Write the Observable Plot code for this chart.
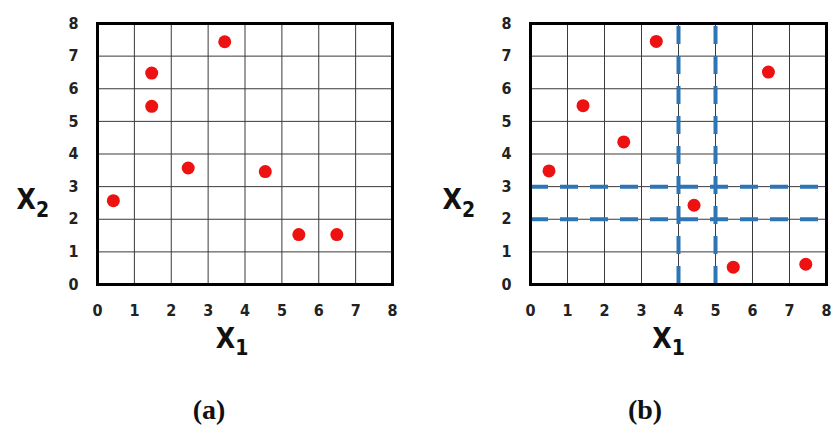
<!DOCTYPE html>
<html><head><meta charset="utf-8">
<script src="https://cdn.jsdelivr.net/npm/d3@7"></script>
<script src="https://cdn.jsdelivr.net/npm/@observablehq/plot@0.6"></script>
<style>
body{margin:0;background:#fff;}
#wrap{position:relative;width:832px;height:430px;overflow:hidden;}
#wrap svg{position:absolute;top:0;background:transparent;}
.cap{position:absolute;top:394px;font-family:"Liberation Serif","DejaVu Serif",serif;font-weight:bold;font-size:28px;transform:translateX(-50%);color:#111;}
</style></head><body>
<div id="wrap"></div>
<script>
// tick values shared by both panels
const ticks = [0, 1, 2, 3, 4, 5, 6, 7, 8];

// Panel (a) points
const aX1 = [0.43, 1.47, 1.47, 2.46, 3.45, 4.55, 5.46, 6.49];
const aX2 = [2.57, 6.48, 5.46, 3.57, 7.44, 3.46, 1.53, 1.53];

// Panel (b) points
const bX1 = [0.50, 1.42, 2.52, 3.40, 4.42, 6.43, 5.48, 7.44];
const bX2 = [3.48, 5.48, 4.37, 7.45, 2.43, 6.51, 0.53, 0.62];

// Panel (b) split lines
const bSplitX1 = [4, 5];
const bSplitX2 = [2, 3];

const axisLabels = ["X₁", "X₂"];
const captions = ["(a)", "(b)"];

const tickFont = '"Liberation Sans Narrow","DejaVu Sans Condensed","Liberation Sans",sans-serif';

function panel(xs, ys, splitsX, splitsY, opts) {
  const pts = xs.map((x, i) => ({x, y: ys[i]}));
  const dash = {stroke: "#2E75B6", strokeWidth: 4, strokeDasharray: "18,12"};
  const marks = [
    Plot.gridX(ticks, {stroke: "#3a3a3a", strokeOpacity: 1, strokeWidth: 1}),
    Plot.gridY(ticks, {stroke: "#3a3a3a", strokeOpacity: 1, strokeWidth: 1}),
  ];
  if (splitsX.length) marks.push(Plot.ruleX(splitsX, {y1: 0, y2: 8, ...dash}));
  if (splitsY.length) marks.push(Plot.ruleY(splitsY, {x1: 0, x2: 8, ...dash}));
  marks.push(
    Plot.frame({stroke: "#000", strokeWidth: 3}),
    Plot.dot(pts, {x: "x", y: "y", r: 6.5, fill: "#ee1111", stroke: "none"}),
    Plot.axisX(ticks, {tickSize: 0, tickPadding: 20, fontSize: 16, fontWeight: "bold", fill: "#222", label: null, tickFormat: d => String(d)}),
    Plot.axisY(ticks, {tickSize: 0, tickPadding: 19, fontSize: 16, fontWeight: "bold", fill: "#222", label: null, tickFormat: d => String(d)}),
    Plot.text([axisLabels[0]], {frameAnchor: "bottom", dx: opts.xlabDx, dy: 63, fontSize: 28, fontWeight: "bold", fill: "#111", textAnchor: "middle"}),
    Plot.text([axisLabels[1]], {frameAnchor: "left", dx: opts.ylabDx, dy: 46, fontSize: 28, fontWeight: "bold", fill: "#111", textAnchor: "start"})
  );
  const svg = Plot.plot({
    width: 416, height: 370,
    marginLeft: opts.marginLeft, marginRight: opts.marginRight,
    marginTop: 23, marginBottom: 86,
    x: {domain: [0, 8]},
    y: {domain: [0, 8]},
    style: {fontFamily: tickFont, background: "transparent"},
    marks
  });
  // render the subscript digit as a lowered, smaller tspan
  d3.select(svg).selectAll("text").each(function () {
    const t = d3.select(this);
    const s = this.textContent;
    if (!axisLabels.includes(s)) return;
    const digit = s === axisLabels[0] ? "1" : "2";
    t.text(null);
    t.append("tspan").text("X");
    t.append("tspan").attr("dy", "0.36em").attr("font-size", "21").text(digit);
  });
  svg.style.left = opts.left + "px";
  return svg;
}

const wrap = document.getElementById("wrap");
wrap.appendChild(panel(aX1, aX2, [], [], {left: 0, marginLeft: 97, marginRight: 24, xlabDx: -13, ylabDx: -81}));
wrap.appendChild(panel(bX1, bX2, bSplitX1, bSplitX2, {left: 416, marginLeft: 114, marginRight: 6, xlabDx: -10, ylabDx: -88}));

[[209, captions[0]], [645, captions[1]]].forEach(([x, t]) => {
  const d = document.createElement("div");
  d.className = "cap"; d.style.left = x + "px"; d.textContent = t;
  wrap.appendChild(d);
});
</script>
</body></html>
